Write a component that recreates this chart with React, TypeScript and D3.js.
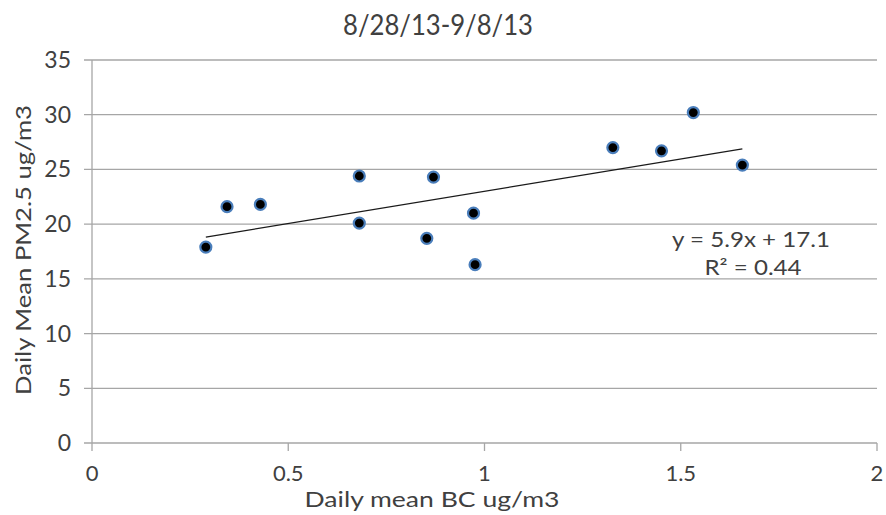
import React from 'react';
import * as d3 from 'd3';

// Daily means, 8/28/13 - 9/8/13
const bcValues = [0.29, 0.344, 0.429, 0.681, 0.681, 0.87, 0.853, 0.972, 0.976, 1.327, 1.451, 1.532, 1.657];
const pm25Values = [17.9, 21.6, 21.8, 24.4, 20.1, 24.3, 18.7, 21.0, 16.3, 27.0, 26.7, 30.2, 25.4];
const xTicks = [0, 0.5, 1, 1.5, 2];
const yTicks = [0, 5, 10, 15, 20, 25, 30, 35];
const trendSlope = 5.9;
const trendIntercept = 17.1;
const rSquared = 0.44;

const width = 886;
const height = 515;
const margin = { top: 60, right: 9, bottom: 72, left: 92 };
const font = "'Lato', 'DejaVu Sans', sans-serif";

const App = () => {
  const innerW = width - margin.left - margin.right;
  const innerH = height - margin.top - margin.bottom;

  const x = d3.scaleLinear().domain([0, 2]).range([0, innerW]);
  const y = d3.scaleLinear().domain([0, 35]).range([innerH, 0]);

  const points = bcValues.map((b, i) => ({ x: b, y: pm25Values[i] }));
  const [xMin, xMax] = d3.extent(bcValues) as [number, number];
  const trend = d3.line<number>()
    .x(d => x(d))
    .y(d => y(trendSlope * d + trendIntercept))([xMin, xMax]);

  const gridColor = '#a6a6a6';
  const textColor = '#404040';

  return (
    <svg width={width} height={height} style={{ position: 'absolute', left: 0, top: 0, background: '#fff' }}>
      <text x={438} y={35} textAnchor="middle" fontFamily={font} fontSize={28} fill={textColor}
        textLength={190} lengthAdjust="spacingAndGlyphs">
        8/28/13-9/8/13
      </text>
      <g transform={`translate(${margin.left},${margin.top})`}>
        {/* horizontal gridlines + y ticks */}
        {yTicks.map(t => (
          <g key={t}>
            <line x1={-8} x2={innerW} y1={y(t)} y2={y(t)} stroke={gridColor} strokeWidth={1.3} />
            <text x={-21} y={y(t) + 8} textAnchor="end" fontFamily={font} fontSize={23} fill={textColor}>
              {t}
            </text>
          </g>
        ))}
        {/* y axis line */}
        <line x1={0} x2={0} y1={0} y2={innerH} stroke={gridColor} strokeWidth={1.3} />
        {/* x ticks */}
        {xTicks.map(t => (
          <g key={t}>
            <line x1={x(t)} x2={x(t)} y1={innerH} y2={innerH + 8} stroke={gridColor} strokeWidth={1.3} />
            <text x={x(t)} y={innerH + 38} textAnchor="middle" fontFamily={font} fontSize={22} fill={textColor}>
              {t}
            </text>
          </g>
        ))}
        {/* trendline */}
        <path d={trend || ''} fill="none" stroke="#1a1a1a" strokeWidth={1.2} />
        {/* points */}
        {points.map((p, i) => (
          <circle key={i} cx={x(p.x)} cy={y(p.y)} r={5.5} fill="#000" stroke="#4a7ebb" strokeWidth={2.2} />
        ))}
        {/* equation */}
        <text x={659} y={187} textAnchor="middle" fontFamily={font} fontSize={21} fill={textColor}
          textLength={158} lengthAdjust="spacingAndGlyphs">
          {`y = ${trendSlope}x + ${trendIntercept}`}
        </text>
        <text x={661} y={215} textAnchor="middle" fontFamily={font} fontSize={21} fill={textColor}
          textLength={97} lengthAdjust="spacingAndGlyphs">
          {`R² = ${rSquared}`}
        </text>
      </g>
      <text x={432} y={507} textAnchor="middle" fontFamily={font} fontSize={21} fill={textColor}
        textLength={255} lengthAdjust="spacingAndGlyphs">
        Daily mean BC ug/m3
      </text>
      <text
        transform={`translate(31,250) rotate(-90)`}
        textAnchor="middle"
        fontFamily={font}
        fontSize={21}
        fill={textColor}
        textLength={290}
        lengthAdjust="spacingAndGlyphs"
      >
        Daily Mean PM2.5 ug/m3
      </text>
    </svg>
  );
};

export default App;
